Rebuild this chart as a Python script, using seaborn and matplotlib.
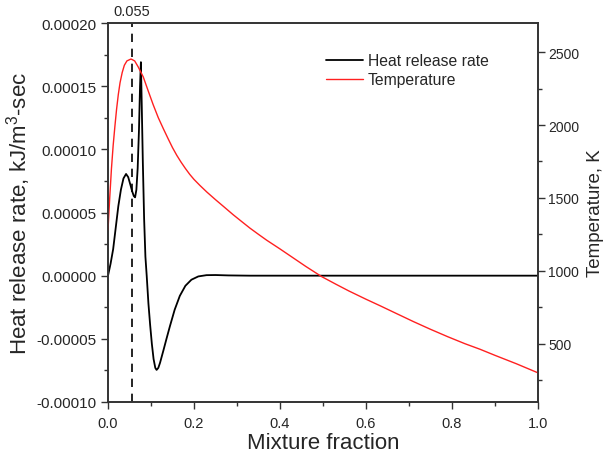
import matplotlib
matplotlib.use("Agg")
import matplotlib.pyplot as plt
import matplotlib.ticker as mticker
import seaborn as sns
import pandas as pd

# ---- data ----
hrr_x = [0.0, 0.006, 0.012, 0.018, 0.024, 0.030, 0.036, 0.042, 0.047, 0.052, 0.056,
         0.060, 0.063, 0.066, 0.069, 0.072, 0.0745, 0.0765, 0.0785, 0.081, 0.084,
         0.087, 0.090, 0.094, 0.098, 0.102, 0.106, 0.110, 0.113, 0.117, 0.121,
         0.125, 0.129, 0.136, 0.144, 0.155, 0.167, 0.180, 0.194, 0.210, 0.229,
         0.250, 0.280, 0.330, 0.500, 0.750, 1.0]
hrr_y = [0.0, 9.5e-6, 2.1e-5, 3.8e-5, 5.5e-5, 6.8e-5, 7.7e-5, 8.05e-5, 7.8e-5, 7.2e-5, 6.7e-5,
         6.3e-5, 6.2e-5, 6.8e-5, 8.5e-5, 1.15e-4, 1.5e-4, 1.69e-4, 1.35e-4, 9.0e-5, 4.5e-5,
         1.5e-5, 0.0, -2.2e-5, -3.9e-5, -5.4e-5, -6.6e-5, -7.3e-5, -7.46e-5, -7.3e-5, -6.9e-5,
         -6.4e-5, -5.9e-5, -5.0e-5, -4.0e-5, -2.7e-5, -1.6e-5, -8e-6, -3.2e-6, -6e-7, 4e-7,
         5e-7, 2e-7, 0.0, 0.0, 0.0, 0.0]

temp_x = [0.0, 0.004, 0.008, 0.012, 0.016, 0.020, 0.024, 0.028, 0.033, 0.038, 0.044,
          0.0535, 0.062, 0.070, 0.082, 0.094, 0.105, 0.117, 0.129, 0.140, 0.150,
          0.160, 0.170, 0.180, 0.190, 0.200, 0.214, 0.230, 0.250, 0.270, 0.291,
          0.310, 0.330, 0.350, 0.369, 0.400, 0.430, 0.460, 0.497, 0.530, 0.560,
          0.600, 0.633, 0.670, 0.710, 0.749, 0.790, 0.830, 0.865, 0.900, 0.950, 1.0]
temp_y = [1280, 1500, 1700, 1860, 1990, 2110, 2210, 2290, 2360, 2410, 2440,
          2453, 2440, 2400, 2330, 2230, 2140, 2050, 1973, 1905, 1845,
          1792, 1745, 1702, 1662, 1627, 1585, 1540, 1488, 1438, 1385,
          1340, 1293, 1250, 1210, 1150, 1090, 1030, 960, 908, 862,
          805, 760, 708, 652, 600, 548, 500, 462, 420, 362, 300]

marker_x = 0.055
hrr_label = "Heat release rate"
temp_label = "Temperature"
xlabel = "Mixture fraction"
ylabel_left = "Heat release rate, kJ/m$^3$-sec"
ylabel_right = "Temperature, K"

df_h = pd.DataFrame({"x": hrr_x, "y": hrr_y})
df_t = pd.DataFrame({"x": temp_x, "y": temp_y})

sns.set_style("ticks")
plt.rcParams["font.family"] = ["Liberation Sans", "DejaVu Sans"]
plt.rcParams["mathtext.fontset"] = "custom"
plt.rcParams["mathtext.rm"] = "Liberation Sans"

fig = plt.figure(figsize=(6.03, 4.64), dpi=100)
ax = fig.add_axes([108 / 603, 61 / 464, 430 / 603, 379 / 464])
ax2 = ax.twinx()

sns.lineplot(data=df_h, x="x", y="y", ax=ax, color="black", linewidth=1.3,
             label=hrr_label, legend=False)
sns.lineplot(data=df_t, x="x", y="y", ax=ax2, color="#ff2020", linewidth=1.0,
             label=temp_label, legend=False)

ax.axvline(marker_x, color="black", linestyle=(0, (5, 4)), linewidth=1.2)
ax.text(marker_x, 1.012, f"{marker_x:.3f}", transform=ax.get_xaxis_transform(),
        ha="center", va="bottom", fontsize=10.5)

ax.set_xlim(0, 1.0)
ax.set_ylim(-0.0001, 0.0002)
ax2.set_ylim(100, 2700)

ax.xaxis.set_major_locator(mticker.MultipleLocator(0.2))
ax.xaxis.set_minor_locator(mticker.MultipleLocator(0.1))
ax.xaxis.set_major_formatter(mticker.FuncFormatter(lambda v, p: f"{v:.1f}"))
ax.yaxis.set_major_locator(mticker.MultipleLocator(0.00005))
ax.yaxis.set_minor_locator(mticker.MultipleLocator(0.000025))
ax.yaxis.set_major_formatter(mticker.FuncFormatter(
    lambda v, p: f"{0.0 if abs(v) < 1e-12 else v:.5f}"))
ax2.yaxis.set_major_locator(mticker.MultipleLocator(500))
ax2.yaxis.set_minor_locator(mticker.MultipleLocator(250))

for a in (ax, ax2):
    a.tick_params(which="major", length=5, width=1.0, color="#333333")
    a.tick_params(which="minor", length=3, width=1.0, color="#333333")
    for s in a.spines.values():
        s.set_color("#333333")
        s.set_linewidth(1.2)
ax.tick_params(axis="x", labelsize=10.5, pad=5)
ax.tick_params(axis="y", labelsize=11, pad=3)
ax2.tick_params(axis="y", labelsize=10, pad=2.5)

ax.set_xlabel(xlabel, fontsize=16)
ax.xaxis.set_label_coords(0.5, -0.106)
ax.xaxis.label.set_va("center")
ax.set_ylabel(ylabel_left, fontsize=16)
ax.yaxis.set_label_coords(-0.207, 0.5)
ax.yaxis.label.set_va("center")
ax2.set_ylabel(ylabel_right, fontsize=13.5)
ax2.yaxis.set_label_coords(1.134, 0.5)
ax2.yaxis.label.set_va("center")

h1, l1 = ax.get_legend_handles_labels()
h2, l2 = ax2.get_legend_handles_labels()
ax2.legend(h1 + h2, l1 + l2, loc="upper left", bbox_to_anchor=(0.508, 0.92),
           frameon=False, fontsize=11.3, handlelength=2.3, handletextpad=0.35,
           labelspacing=0.26, borderpad=0, borderaxespad=0)

fig.savefig("out.png", dpi=100)
